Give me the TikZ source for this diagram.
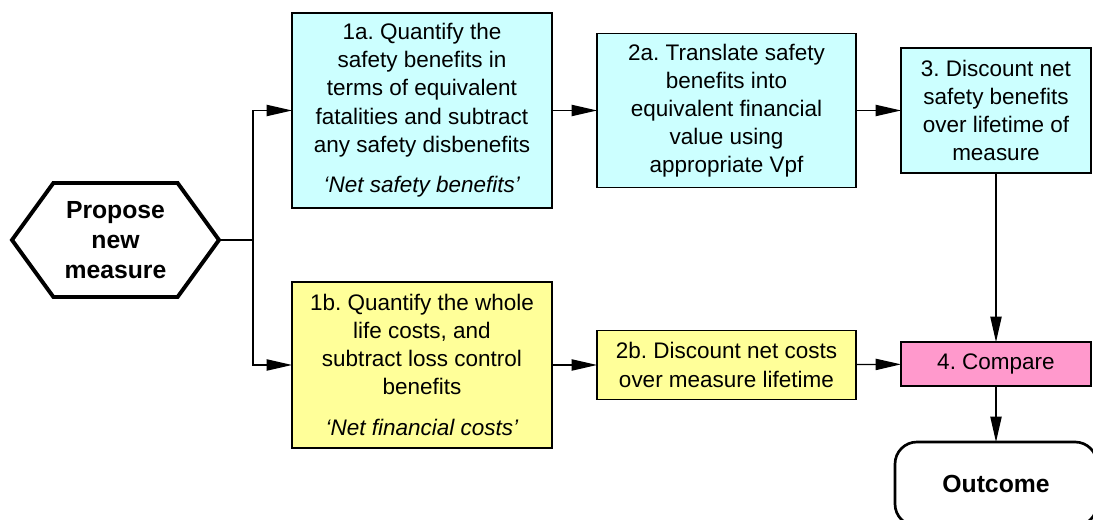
\documentclass[tikz,border=0pt]{standalone}
\usepackage{fontspec}
\setmainfont{Liberation Sans}
\usepackage{xcolor}
\usepackage{tikz}
\usetikzlibrary{arrows.meta, shapes.symbols, positioning, calc}
\definecolor{SafeCyan}{HTML}{CCFFFF}
\definecolor{CostYellow}{HTML}{FFFF99}
\definecolor{ComparePink}{HTML}{FF99CC}
\frenchspacing

\begin{document}
\begin{tikzpicture}[
  box/.style={rectangle, draw=black, line width=0.9pt, align=center, inner sep=2pt, outer sep=0pt,
    font=\fontsize{16}{20}\selectfont},
  safety/.style={box, fill=SafeCyan, minimum width=6.5cm},
  cost/.style={box, fill=CostYellow, minimum width=6.5cm},
  compare/.style={box, fill=ComparePink, minimum width=4.75cm, minimum height=1.1cm},
  start/.style={signal, signal to=west and east, signal pointer angle=108, draw=black, line width=2.8pt,
    align=center, outer sep=0pt, minimum width=5.175cm, minimum height=2.85cm,
    font=\fontsize{17.6}{21.3}\selectfont\bfseries},
  finish/.style={rectangle, rounded corners=0.55cm, draw=black, line width=1.9pt, outer sep=0pt,
    minimum width=5.05cm, minimum height=2.1cm, font=\fontsize{17.6}{21.3}\selectfont\bfseries},
  arrow/.style={-{Triangle[length=18pt, width=8pt]}, line width=0.9pt},
  link/.style={line width=0.9pt}
]
\useasboundingbox (0,0) rectangle (27.325,13);

\node[start] (propose) at (2.8875,7.0) {Propose\\new\\measure};
\coordinate (split) at (6.325,7.0);

% safety branch
\node[safety, minimum height=4.875cm] (safe1) at (10.55,10.2375)
  {1a. Quantify the\\safety benefits in\\terms of equivalent\\fatalities and subtract\\any safety disbenefits\\[9pt]\textit{`Net safety benefits'}};
\node[safety, minimum width=6.475cm, minimum height=3.85cm, right=1.125cm of safe1] (safe2)
  {2a. Translate safety\\benefits into\\equivalent financial\\value using\\appropriate Vpf};
\node[safety, minimum width=4.75cm, minimum height=3.125cm, right=1.125cm of safe2] (safe3)
  {3. Discount net\\safety benefits\\over lifetime of\\measure};

% cost branch
\node[cost, minimum height=4.15cm] (cost1) at (10.55,3.875)
  {1b. Quantify the whole\\life costs, and\\subtract loss control\\benefits\\[9pt]\textit{`Net financial costs'}};
\node[cost, minimum width=6.475cm, minimum height=1.725cm, right=1.125cm of cost1] (cost2)
  {2b. Discount net costs\\over measure lifetime};

\node[compare, below=4.225cm of safe3] (cmp) {4. Compare};
\node[finish, below=1.4cm of cmp] (outcome) {Outcome};

\draw[link] (propose.east) -- (split);
\draw[arrow] (split) |- (safe1.west);
\draw[arrow] (split) |- (cost1.west);
\draw[arrow] (safe1) -- (safe2);
\draw[arrow] (safe2) -- (safe3);
\draw[arrow] (cost1) -- (cost2);
\draw[arrow] (cost2) -- (cmp);
\draw[arrow] (safe3) -- (cmp);
\draw[arrow] (cmp) -- (outcome);

\end{tikzpicture}
\end{document}
